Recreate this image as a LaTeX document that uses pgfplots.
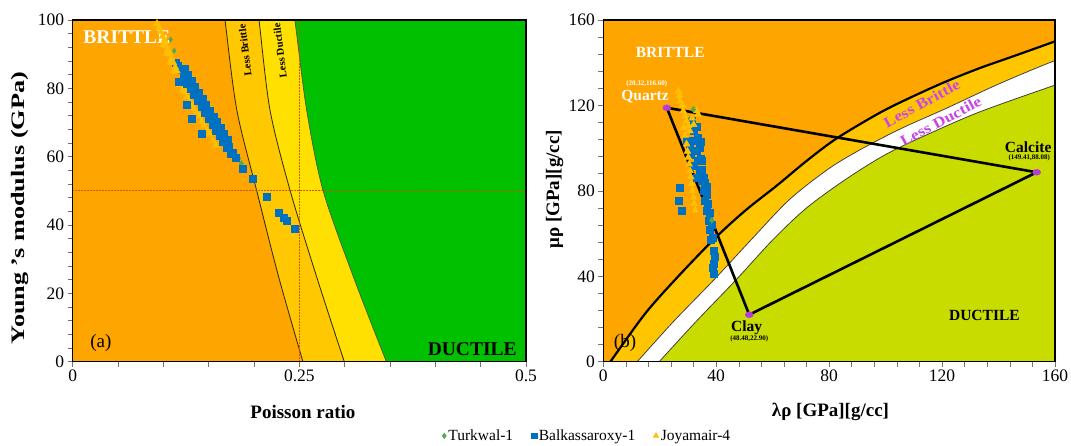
\documentclass[border=0pt]{standalone}
\usepackage{fontspec}
\setmainfont{Liberation Serif}
\usepackage{graphicx}
\usepackage{pgfplots}
\pgfplotsset{compat=1.18}
\definecolor{brit}{RGB}{255,165,0}
\definecolor{lbL}{RGB}{255,200,0}
\definecolor{ldL}{RGB}{255,224,0}
\definecolor{ducL}{RGB}{0,192,0}
\definecolor{lbR}{RGB}{255,198,0}
\definecolor{ducR}{RGB}{200,220,0}
\definecolor{sqb}{RGB}{0,112,192}
\definecolor{triy}{RGB}{255,192,0}
\definecolor{dmg}{RGB}{80,170,80}
\definecolor{vpur}{RGB}{180,60,220}
\definecolor{lbtxt}{RGB}{200,70,230}
\definecolor{dotc}{RGB}{205,80,0}
\pgfplotsset{
  myaxis/.style={
    scale only axis, axis on top,
    tick align=outside, xtick pos=lower, ytick pos=lower,
    major tick length=5pt, minor tick length=5pt,
    tick style={black!55, line width=0.6pt},
    axis line style={black, line width=1.4pt},
    tick label style={font=\fontsize{17.5}{18}\selectfont, black},
    /pgf/number format/assume math mode=true,
    label style={font=\fontsize{19}{20}\selectfont\bfseries},
  }
}
\begin{document}
\begin{tikzpicture}
\useasboundingbox (-72.7pt,-84.3pt) rectangle (998.3pt,361.7pt);
% ---------------- left panel ----------------
\begin{axis}[myaxis, at={(0pt,0pt)}, anchor=south west,
  width=453.3pt, height=341.7pt,
  xmin=0, xmax=0.5, ymin=0, ymax=100,
  xtick={0,0.25,0.5}, xticklabels={0,0.25,0.5},
  minor xtick={0.05,0.10,0.15,0.20,0.30,0.35,0.40,0.45},
  ytick={0,20,40,60,80,100}, yticklabels={0,20,40,60,80,100},
  minor ytick={4,8,12,16,24,28,32,36,44,48,52,56,64,68,72,76,84,88,92,96},
  axis background/.style={fill=brit},
  xlabel={Poisson ratio},
  ylabel={\scalebox{1.38}[1]{Young 's modulus (GPa)}},
  xlabel style={at={(axis description cs:0.508,-0.147)}, anchor=center},
  ylabel style={at={(axis description cs:-0.116,0.45)}, anchor=center},
  legend style={at={(1.135,-0.217)}, anchor=center, draw=none, fill=none,
    legend columns=3, font=\fontsize{15.5}{16}\selectfont,
    /tikz/every even column/.append style={column sep=16pt}},
]
\addplot[fill=lbL, draw=none, smooth, forget plot] coordinates {(0.164,108)(0.168,100)(0.181,73.7)(0.203,50)(0.227,25)(0.254,0)(0.266,-10)(0.7,-10)(0.7,108)} -- cycle;
\addplot[fill=ldL, draw=none, smooth, forget plot] coordinates {(0.201,108)(0.2055,100)(0.2176,73.7)(0.2397,50.2)(0.269,24.9)(0.2996,0)(0.313,-10)(0.7,-10)(0.7,108)} -- cycle;
\addplot[fill=ducL, draw=none, smooth, forget plot] coordinates {(0.240,108)(0.245,100)(0.258,73.7)(0.276,50.2)(0.3095,24.9)(0.346,0)(0.362,-10)(0.7,-10)(0.7,108)} -- cycle;
\addplot[black!85, line width=0.8pt, smooth, forget plot] coordinates {(0.164,108)(0.168,100)(0.181,73.7)(0.203,50)(0.227,25)(0.254,0)(0.266,-10)};
\addplot[black!85, line width=0.8pt, smooth, forget plot] coordinates {(0.201,108)(0.2055,100)(0.2176,73.7)(0.2397,50.2)(0.269,24.9)(0.2996,0)(0.313,-10)};
\addplot[black!70, line width=0.6pt, smooth, forget plot] coordinates {(0.240,108)(0.245,100)(0.258,73.7)(0.276,50.2)(0.3095,24.9)(0.346,0)(0.362,-10)};
\addplot[dotc, dotted, line cap=round, line width=1pt, forget plot] coordinates {(0.25,0)(0.25,100)};
\addplot[dotc, dotted, line cap=round, line width=1pt, forget plot] coordinates {(0,50)(0.5,50)};
\node[white, font=\fontsize{19.5}{20}\selectfont\bfseries, anchor=west] at (axis cs:0.008,95.1) {BRITTLE};
\node[black, font=\fontsize{19.5}{20}\selectfont\bfseries] at (axis cs:0.4407,3.6) {DUCTILE};
\node[black, font=\fontsize{19}{20}\selectfont] at (axis cs:0.031,5.4) {(a)};
\node[black, rotate=97, font=\fontsize{10.5}{11}\selectfont\bfseries] at (axis cs:0.19,91.2) {Less Brittle};
\node[black, rotate=97, font=\fontsize{10.5}{11}\selectfont\bfseries] at (axis cs:0.2286,91) {Less Ductile};
% data: Joyamair-4, lower-left side of the band
\addplot[only marks, mark=triangle*, color=triy, mark size=4pt, forget plot] coordinates {
(0.118,81)(0.121,79.5)(0.124,79)(0.126,77.5)(0.129,76.2)(0.131,75.2)(0.134,74)(0.137,73)(0.140,71.8)(0.142,70.2)(0.145,69.2)(0.148,67.8)(0.151,66.6)(0.155,64.6)(0.158,63.2)};
\addplot[only marks, mark=diamond*, color=dmg, mark size=3pt, forget plot] coordinates {
(0.183,59.5)(0.186,58)};
% Balkassaroxy-1
\addplot[only marks, mark=square*, color=sqb, mark size=3.5pt, forget plot] coordinates {
(0.114,87.5)(0.116,86.5)(0.117,82)
(0.120,85.4)(0.124,83.7)(0.128,82.0)(0.132,80.2)(0.136,78.5)(0.140,76.8)(0.144,75.1)(0.148,73.4)(0.152,71.6)(0.156,69.9)(0.160,68.2)(0.164,66.5)(0.168,64.8)(0.172,63.0)(0.176,61.3)(0.180,59.6)
(0.122,83.2)(0.126,81.5)(0.130,79.8)(0.134,78.0)(0.138,76.3)(0.142,74.6)(0.146,72.9)(0.150,71.2)(0.154,69.4)(0.158,67.7)(0.162,66.0)(0.166,64.3)(0.170,62.6)(0.174,60.8)
(0.123,85.6)(0.127,83.9)(0.131,82.1)(0.135,80.4)(0.139,78.7)(0.143,77.0)(0.147,75.2)(0.151,73.5)(0.155,71.8)(0.159,70.1)(0.163,68.4)(0.167,66.6)(0.171,64.9)
(0.126,75.1)(0.131,71.2)(0.142,66.8)
(0.188,56.4)(0.198,53.5)(0.214,48.3)(0.227,43.6)(0.233,42.2)(0.236,41.3)(0.245,38.8)};
% Joyamair-4 top strip and Turkwal-1 top
\addplot[only marks, mark=triangle*, color=triy, mark size=4pt, forget plot] coordinates {
(0.091,100.6)(0.093,99)(0.095,97.8)(0.097,96.5)(0.099,95.2)(0.101,94)(0.103,92.5)(0.105,91.3)(0.107,90)(0.109,88.8)(0.111,87.5)(0.113,86.2)(0.115,85)
(0.100,92.8)(0.104,90.2)(0.108,87.6)(0.112,85)};
\addplot[only marks, mark=diamond*, color=dmg, mark size=2.6pt, forget plot] coordinates {
(0.108,94.3)(0.112,91)};
\addlegendimage{only marks, mark=diamond*, color=dmg, mark size=2.8pt}
\addlegendentry{Turkwal-1}
\addlegendimage{only marks, mark=square*, color=sqb, mark size=2.8pt}
\addlegendentry{Balkassaroxy-1}
\addlegendimage{only marks, mark=triangle*, color=triy, mark size=3.2pt}
\addlegendentry{Joyamair-4}
\end{axis}
% ---------------- right panel ----------------
\begin{axis}[myaxis, at={(530.6pt,0pt)}, anchor=south west,
  width=451.7pt, height=341.7pt,
  xmin=0, xmax=160, ymin=0, ymax=160,
  xtick={0,40,80,120,160}, xticklabels={0,40,80,120,160},
  minor xtick={8,16,24,32,48,56,64,72,88,96,104,112,128,136,144,152},
  ytick={0,40,80,120,160}, yticklabels={0,40,80,120,160},
  minor ytick={8,16,24,32,48,56,64,72,88,96,104,112,128,136,144,152},
  axis background/.style={fill=brit},
  xlabel={λρ [GPa][g/cc]},
  ylabel={μρ [GPa][g/cc]},
  xlabel style={at={(axis description cs:0.503,-0.147)}, anchor=center},
  ylabel style={at={(axis description cs:-0.108,0.505)}, anchor=center},
]
\addplot[fill=lbR, draw=none, smooth, forget plot] coordinates {(-4.5,-13)(2.5,0)(15,22.8)(27,40.6)(40,58.4)(50.5,71)(61.5,82.5)(72,94)(82.6,104.5)(98,116.6)(109.8,124.3)(121.6,131.3)(133.4,137.5)(145.2,143)(160,150)(170,155)(200,155)(200,-20)(-10,-20)} -- cycle;
\addplot[fill=white, draw=none, smooth, forget plot] coordinates {(5,-10)(12,0)(25,19)(39.3,38.5)(53,58)(66,76)(80,90.5)(92,100)(106,109.5)(121.6,118.7)(140,130)(160,141)(175,147.5)(200,147.5)(200,-20)(0,-20)} -- cycle;
\addplot[fill=ducR, draw=none, smooth, forget plot] coordinates {(13,-10)(19.8,0)(33,19)(47,38.3)(60,57)(72,72)(86,85.5)(100,97)(115,106.5)(133.4,117)(160,129.5)(175,136)(200,136)(200,-20)(5,-20)} -- cycle;
\addplot[black, line width=2.2pt, smooth, forget plot] coordinates {(-4.5,-13)(2.5,0)(15,22.8)(27,40.6)(40,58.4)(50.5,71)(61.5,82.5)(72,94)(82.6,104.5)(98,116.6)(109.8,124.3)(121.6,131.3)(133.4,137.5)(145.2,143)(160,150)(170,155)};
\addplot[black!75, line width=0.8pt, smooth, forget plot] coordinates {(5,-10)(12,0)(25,19)(39.3,38.5)(53,58)(66,76)(80,90.5)(92,100)(106,109.5)(121.6,118.7)(140,130)(160,141)(175,147.5)};
\addplot[black!75, line width=0.8pt, smooth, forget plot] coordinates {(13,-10)(19.8,0)(33,19)(47,38.3)(60,57)(72,72)(86,85.5)(100,97)(115,106.5)(133.4,117)(160,129.5)(175,136)};
\addplot[black, line width=2.6pt, line join=round, forget plot] coordinates {(22.5,118.9)(153.5,88.7)(51.7,22)(22.5,118.9)};
\node[lbtxt, rotate=29, font=\fontsize{15}{15}\selectfont\bfseries] at (axis cs:112.8,120.9) {\scalebox{1.15}[1]{Less Brittle}};
\node[lbtxt, rotate=28, font=\fontsize{15}{15}\selectfont\bfseries] at (axis cs:119.5,112.6) {\scalebox{1.15}[1]{Less Ductile}};
\node[white, font=\fontsize{15.5}{16}\selectfont\bfseries] at (axis cs:23.7,145) {BRITTLE};
\node[black, font=\fontsize{15.5}{16}\selectfont\bfseries] at (axis cs:135,21.5) {DUCTILE};
\node[black, font=\fontsize{19}{20}\selectfont] at (axis cs:7.7,8.8) {(b)};
\node[white, font=\fontsize{15.5}{16}\selectfont\bfseries] at (axis cs:14.8,124.3) {Quartz};
\node[white, font=\fontsize{7}{7}\selectfont\bfseries] at (axis cs:15.4,130.2) {(20.32,116.60)};
\node[black, font=\fontsize{15.5}{16}\selectfont\bfseries] at (axis cs:50.8,15.8) {Clay};
\node[black, font=\fontsize{7}{7}\selectfont\bfseries] at (axis cs:51.7,10.7) {(48.48,22.90)};
\node[black, font=\fontsize{15.5}{16}\selectfont\bfseries] at (axis cs:150.5,100.3) {Calcite};
\node[black, font=\fontsize{7}{7}\selectfont\bfseries] at (axis cs:150.9,95.6) {(149.41,88.08)};
% data
\addplot[only marks, mark=square*, color=sqb, mark size=3.5pt, forget plot] coordinates {
(29.5,103.4)(30.7,100.3)(31.3,112.7)(31.9,108)(32.5,103.4)(33.1,98.8)(33.6,94.1)(34.2,89.5)(34.8,84.8)(35.4,80.2)(36,75.5)(36.6,70.9)(37.2,66.2)(37.8,61.6)(38,56.9)(39,52.2)(39,46)(39.2,41.4)
(33.5,105)(34.5,95)(35.5,86)(36.5,78)(37,74)(35,90)(31,97)(32,92)(33,86)(34,100)(35,94)(36,84)(33.2,110)(34.6,103)(36.8,82)(37.6,70)(38.4,64)(38.6,58)(39.3,49)(38.8,44)
(26.9,81.7)(26.6,75.5)(27.7,70.9)};
\addplot[only marks, mark=triangle*, color=triy, mark size=4pt, forget plot] coordinates {
(26.6,126.7)(27,124.5)(27.2,122)(28,120)(28.3,117.4)(29,115)(29.5,112.7)(30.2,110.5)(30.7,108)(31.5,114)(32,111)(33.1,117.4)(33.6,115.8)(29,106)(28.5,109.5)
(29.5,101.9)(29.8,98.5)(30.1,95.7)(30.4,92.5)(30.7,89.5)(31,86.5)(31.3,83.3)(31.6,80)(31.9,77)(32.2,74)(32.5,70.9)};
\addplot[only marks, mark=diamond*, color=dmg, mark size=3pt, forget plot] coordinates {(31.9,118.1)(38.4,66.2)};
\addplot[only marks, mark=*, color=vpur, mark size=3pt, mark options={xscale=1.35}, forget plot] coordinates {(22.5,118.9)(153.5,88.7)(51.7,22)};
\end{axis}
\end{tikzpicture}
\end{document}
